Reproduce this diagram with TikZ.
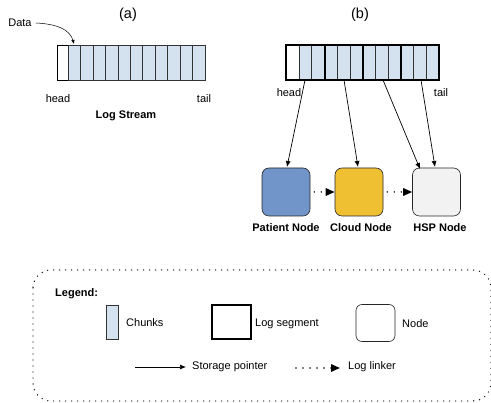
\documentclass[tikz,border=0pt]{standalone}
\usepackage{fontspec}
\setmainfont{Liberation Sans}
\usetikzlibrary{arrows.meta}
\definecolor{chunk}{HTML}{D3E2EE}
\definecolor{patient}{HTML}{7194C9}
\definecolor{cloud}{HTML}{EFC132}
\definecolor{hsp}{HTML}{F1F2F1}
\tikzset{
  lbl/.style={font=\fontsize{11}{13}\selectfont, inner sep=0pt},
  blbl/.style={font=\fontsize{11}{13}\selectfont\bfseries, inner sep=0pt},
  ttl/.style={font=\fontsize{14.5}{16}\selectfont, inner sep=0pt},
  chunkbox/.style={draw=black!80, fill=chunk, line width=0.5pt},
  segbox/.style={draw=black, line width=2pt},
  nodebox/.style={draw=black!85, rounded corners=7pt, line width=0.6pt, minimum width=48pt, minimum height=48pt, inner sep=0pt},
  sptr/.style={-{Latex[length=6pt,width=5pt]}, line width=0.7pt},
  dots/.style={line cap=round, dash pattern=on 0pt off 7pt, line width=1.6pt},
  llink/.style={dots, -{Triangle[length=9pt,width=7.5pt]}},
}
\begin{document}
\begin{tikzpicture}[x=1pt,y=-1pt]
\useasboundingbox (0,0) rectangle (491,403);
% (a)
\node[ttl] (ta) at (128,15) {(a)};
\draw[line width=0.7pt] (57,45) rectangle (68,80);
\foreach \i in {0,...,10} {
  \draw[chunkbox] ({68+\i*12.45},45) rectangle ({68+(\i+1)*12.45},80);
}
\coordinate (atgt) at (74,44);
\node[lbl] (data) at (20,23) {Data};
\draw[-{Latex[length=4pt,width=3.5pt]}, line width=0.5pt] (data.east) ++(4,0) .. controls (58,24) and (70,30) .. (atgt);
\node[lbl] (ahead) at (58,99) {head};
\node[lbl] (atail) at (204,99) {tail};
\node[blbl] (alog) at (126,116) {Log Stream};
% (b)
\node[ttl] (tb) at (360,15) {(b)};
\draw[line width=0.7pt] (286,45) rectangle (299,80);
\foreach \i in {0,...,10} {
  \draw[chunkbox] ({299+\i*12.73},45) rectangle ({299+(\i+1)*12.73},80);
}
\draw[segbox] (286,45) rectangle (325,80);
\draw[segbox] (325,45) rectangle (363,80);
\draw[segbox] (363,45) rectangle (401,80);
\draw[segbox] (401,45) rectangle (439,80);
\node[lbl] (bhead) at (289,93) {head};
\node[lbl] (btail) at (441,93) {tail};
\coordinate (p1) at (305,80);
\coordinate (p2) at (344,80);
\coordinate (p3) at (383,80);
\coordinate (p4) at (421,80);
\node[nodebox, fill=patient] (pat) at (286,192) {};
\node[nodebox, fill=cloud] (cld) at (359,192) {};
\node[nodebox, fill=hsp] (hsp) at (436.5,192) {};
\node[blbl] (patl) at (286,228) {Patient Node};
\node[blbl] (cldl) at (361,228) {Cloud Node};
\node[blbl] (hspl) at (440,228) {HSP Node};
\draw[sptr] (p1) -- (287,167);
\draw[sptr] (p2) -- (358,167);
\draw[sptr] (p3) -- (420,169);
\draw[sptr] (p4) -- (435,167);
\draw[llink] ([xshift=4pt]pat.east) -- (cld.west);
\draw[llink] ([xshift=4pt]cld.east) -- (hsp.west);
% legend
\draw[dots, line width=1.4pt, dash pattern=on 0pt off 6pt, rounded corners=18pt] (33,270) rectangle (491,401);
\node[blbl, anchor=west] (leg) at (55,294) {Legend:};
\draw[chunkbox] (106,305) rectangle (118,339);
\node[lbl, anchor=west] (lch) at (126,323) {Chunks};
\draw[segbox] (212,305) rectangle (251,339);
\node[lbl, anchor=west] (lseg) at (255,324) {Log segment};
\node[nodebox, minimum width=39pt, minimum height=37pt, rounded corners=6pt] (lnode) at (375.5,323) {};
\node[lbl, anchor=west] (lnd) at (402,324) {Node};
\coordinate (s1) at (135,367);
\coordinate (s2) at (186,367);
\draw[sptr] (s1) -- (s2);
\node[lbl, anchor=west] (lsp) at (192,367) {Storage pointer};
\coordinate (l1) at (296,368);
\coordinate (l2) at (340,368);
\draw[llink] (l1) -- (l2);
\node[lbl, anchor=west] (lll) at (348,367) {Log linker};
\end{tikzpicture}
\end{document}
